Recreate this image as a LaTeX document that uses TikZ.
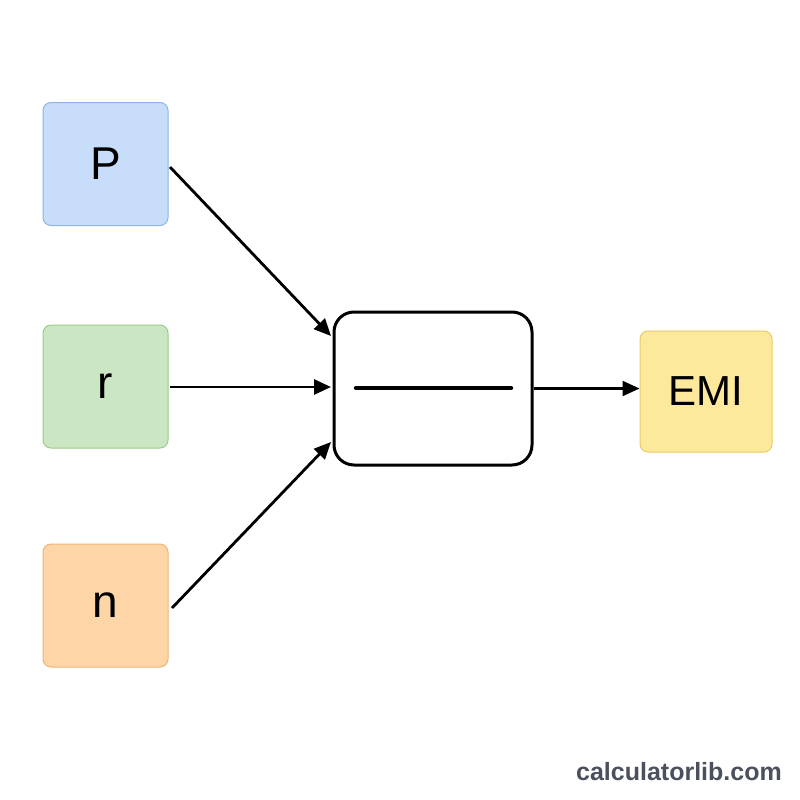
\documentclass[tikz,border=0pt]{standalone}
\usepackage{fontspec}
\setmainfont{Liberation Sans}
\usetikzlibrary{arrows.meta}
\definecolor{bfill}{HTML}{C8DDFA}\definecolor{bdraw}{HTML}{8DB5EA}
\definecolor{gfill}{HTML}{CBE6C2}\definecolor{gdraw}{HTML}{9CCB8C}
\definecolor{ofill}{HTML}{FDD5A6}\definecolor{odraw}{HTML}{EFB577}
\definecolor{yfill}{HTML}{FCE99C}\definecolor{ydraw}{HTML}{EBCB62}
\definecolor{wm}{HTML}{4A505E}
\tikzset{
  inbox/.style={rounded corners=8pt, line width=1pt, minimum width=125pt, minimum height=123pt, inner sep=0pt, font=\fontsize{46}{50}\selectfont},
  conn/.style={line width=2.8pt, -{Triangle[length=17pt,width=15pt]}},
}
\begin{document}
\begin{tikzpicture}[x=1pt,y=-1pt]
\useasboundingbox (0,0) rectangle (800,800);
\fill[white] (0,0) rectangle (800,800);
\node[inbox, fill=bfill, draw=bdraw] (P) at (105.5,164) {P};
\node[inbox, fill=gfill, draw=gdraw] (r) at (105.5,386.5) {r};
\node[inbox, fill=ofill, draw=odraw] (n) at (105.5,605.5) {n};
\node[draw=black, line width=3pt, rounded corners=20pt, minimum width=198pt, minimum height=153pt, inner sep=0pt] (f) at (433,388.5) {};
\coordinate (la) at (356,388);
\coordinate (lb) at (511,388);
\draw[line width=4.5pt, line cap=round] (la) -- (lb);
\node[inbox, fill=yfill, draw=ydraw, minimum width=132pt, minimum height=121pt, font=\fontsize{42}{46}\selectfont] (E) at (706,391.5) {EMI};
\coordinate (pA) at (170,167);
\coordinate (rA) at (170,387);
\coordinate (nA) at (172,608);
\draw[conn] (pA) -- (331,336);
\draw[conn] (rA) -- (331,387);
\draw[conn] (nA) -- (331,442);
\draw[conn, line width=2.2pt] (f.east) -- (E.west |- f.east);
\node[anchor=south east, inner sep=0pt, text=wm, font=\fontsize{25}{28}\selectfont\bfseries] (w) at (782,781) {calculatorlib.com};
\end{tikzpicture}
\end{document}
